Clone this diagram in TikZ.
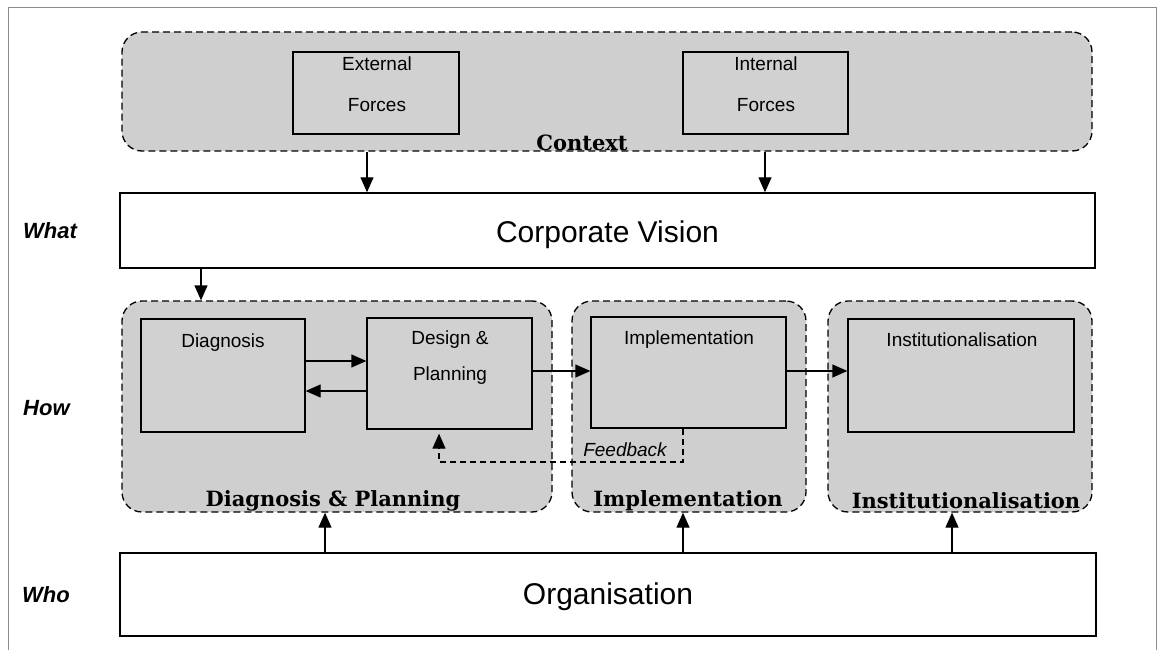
\documentclass[tikz,border=0pt]{standalone}
\usepackage{fontspec}
\setmainfont{Liberation Sans}
\newfontfamily\labfont{DejaVu Serif}
\usetikzlibrary{arrows.meta,fit}
\begin{document}
\begin{tikzpicture}[x=1pt,y=-1pt,
  container/.style={draw=black, fill=black!19, dash pattern=on 7pt off 4pt, line width=1.3pt, rounded corners=20pt, inner sep=0pt},
  innerbox/.style={draw=black, fill=black!18, line width=1.3pt, inner sep=0pt},
  whitebox/.style={draw=black, fill=white, line width=1.4pt, inner sep=0pt},
  boxtext/.style={font=\fontsize{19}{22}\selectfont, anchor=mid, inner sep=0pt},
  bigtext/.style={font=\fontsize{30}{34}\selectfont, inner sep=0pt},
  rowlabel/.style={font=\fontsize{22}{26}\selectfont\bfseries\itshape, anchor=west, inner sep=0pt},
  grouplabel/.style={font=\fontsize{21}{25}\selectfont\labfont\bfseries, inner sep=0pt},
  conn/.style={line width=1.3pt, -{Triangle[length=15pt,width=13pt]}},
  fbconn/.style={line width=1.2pt, dash pattern=on 6pt off 4pt, -{Triangle[length=15pt,width=13pt]}}
]
\useasboundingbox (0,0) rectangle (1165,650);
% outer frame
\draw[black!45, line width=0.8pt] (8,650) -- (8,7) -- (1156,7) -- (1156,650);

% containers
\node[container, fit={(122,32) (1092,151)}] (ctx) {};
\node[container, fit={(122,301) (552,512)}] (dpc) {};
\node[container, fit={(572,301) (806,512)}] (impc) {};
\node[container, fit={(828,301) (1092,512)}] (instc) {};

% inner boxes
\node[innerbox, fit={(293,52) (459,134)}] (ext) {};
\node[innerbox, fit={(683,52) (848,134)}] (int) {};
\node[innerbox, fit={(141,319) (305,432)}] (diag) {};
\node[innerbox, fit={(367,318) (532,429)}] (design) {};
\node[innerbox, fit={(591,317) (786,428)}] (impl) {};
\node[innerbox, fit={(848,319) (1074,432)}] (inst) {};

% white boxes
\node[whitebox, fit={(120,193) (1095,268)}] (corp) {};
\node[whitebox, fit={(120,553) (1096,636)}] (org) {};

% texts
\node[boxtext] (t-ext1) at (377,68) {External};
\node[boxtext] (t-ext2) at (377,109) {Forces};
\node[boxtext] (t-int1) at (766,68) {Internal};
\node[boxtext] (t-int2) at (766,109) {Forces};
\node[grouplabel] (l-ctx) at (582,143) {Context};
\node[bigtext] (t-corp) at ([yshift=-4pt]corp.center) {Corporate Vision};
\node[bigtext] (t-org) at ([yshift=-2pt]org.center) {Organisation};
\node[boxtext] (t-diag) at (223,345) {Diagnosis};
\node[boxtext] (t-des1) at (450,342) {Design \&};
\node[boxtext] (t-des2) at (450,378) {Planning};
\node[boxtext] (t-impl) at (689,342) {Implementation};
\node[boxtext] (t-inst) at (962,344) {Institutionalisation};
\node[grouplabel] (l-dp) at (333,501) {Diagnosis \& Planning};
\node[grouplabel] (l-impl) at (688,501) {Implementation};
\node[grouplabel] (l-inst) at (966,501) {Institutionalisation};
\node[rowlabel] (what) at (23,231) {What};
\node[rowlabel] (how) at (23,408) {How};
\node[rowlabel] (who) at (22,595) {Who};

% connectors
\draw[conn] (ctx.south -| 367,0) -- (corp.north -| 367,0);
\draw[conn] (ctx.south -| 765,0) -- (corp.north -| 765,0);
\draw[conn] (corp.south -| 201,0) -- (dpc.north -| 201,0);
\draw[conn] (diag.east |- 0,361) -- (design.west |- 0,361);
\draw[conn] (design.west |- 0,391) -- (diag.east |- 0,391);
\draw[conn] (design.east |- 0,371) -- (impl.west |- 0,371);
\draw[conn] (impl.east |- 0,371) -- (inst.west |- 0,371);
\draw[conn] (org.north -| 325,0) -- (dpc.south -| 325,0);
\draw[conn] (org.north -| 683,0) -- (impc.south -| 683,0);
\draw[conn] (org.north -| 952,0) -- (instc.south -| 952,0);

% feedback
\coordinate (fbr) at (683,462);
\coordinate (fbl) at (439,462);
\draw[fbconn] (impl.south -| fbr) -- (fbr) -- (fbl) -- ([yshift=-4pt]design.south -| fbl);
\node[font=\fontsize{19}{22}\selectfont\itshape, anchor=mid, inner sep=0pt] (t-fb) at (625,454) {Feedback};
\end{tikzpicture}
\end{document}
